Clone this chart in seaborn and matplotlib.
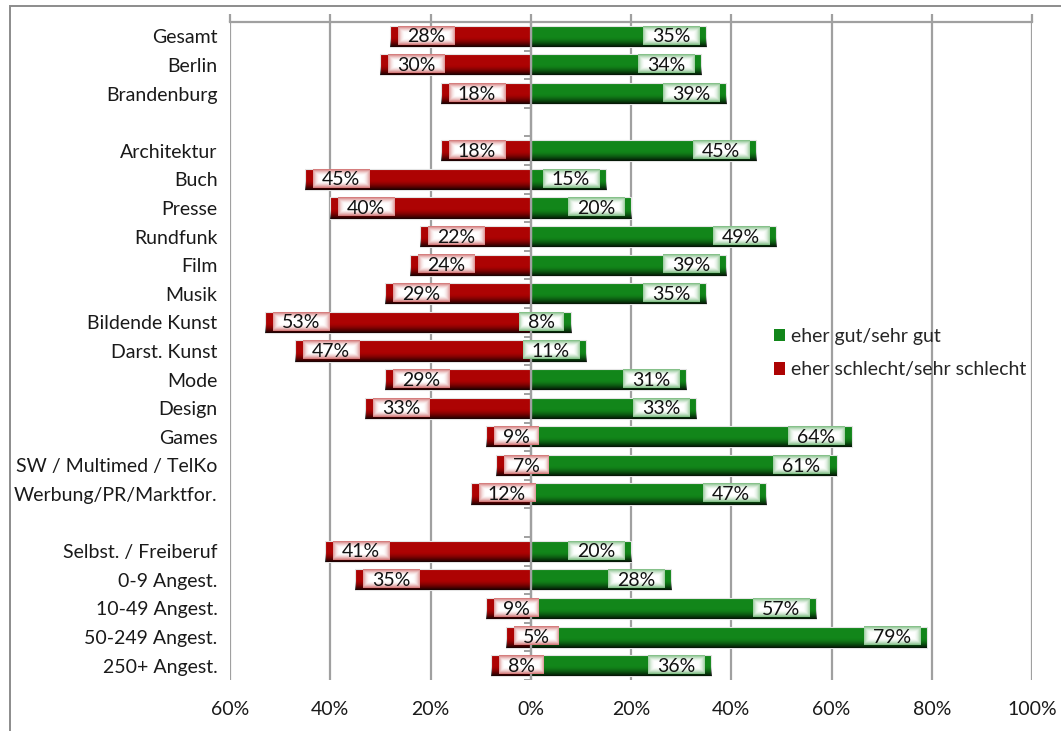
import numpy as np
import pandas as pd
import matplotlib
matplotlib.use("Agg")
import matplotlib.pyplot as plt
import seaborn as sns
from matplotlib.patches import Patch, Rectangle
from matplotlib.colors import to_rgb

# ---------------- data ----------------
categories = ["Gesamt", "Berlin", "Brandenburg", " ",
              "Architektur", "Buch", "Presse", "Rundfunk", "Film", "Musik",
              "Bildende Kunst", "Darst. Kunst", "Mode", "Design", "Games",
              "SW / Multimed / TelKo", "Werbung/PR/Marktfor.", "  ",
              "Selbst. / Freiberuf", "0-9 Angest.", "10-49 Angest.",
              "50-249 Angest.", "250+ Angest."]
gut = [35, 34, 39, np.nan, 45, 15, 20, 49, 39, 35, 8, 11, 31, 33, 64, 61, 47,
       np.nan, 20, 28, 57, 79, 36]
schlecht = [28, 30, 18, np.nan, 18, 45, 40, 22, 24, 29, 53, 47, 29, 33, 9, 7, 12,
            np.nan, 41, 35, 9, 5, 8]
x_ticks = [-60, -40, -20, 0, 20, 40, 60, 80, 100]
x_tick_labels = ["60%", "40%", "20%", "0%", "20%", "40%", "60%", "80%", "100%"]
legend_labels = ["eher gut/sehr gut", "eher schlecht/sehr schlecht"]

GREEN = "#12861a"
RED = "#ad0303"
GRAY = "#a0a0a0"
FS = 14

df = pd.DataFrame({"cat": categories, "gut": gut,
                   "schlecht": [-v for v in schlecht]})

sns.set_theme(style="white")
plt.rcParams["font.family"] = ["Lato", "DejaVu Sans"]

W, H = 1061, 731
fig = plt.figure(figsize=(W / 100, H / 100), dpi=100)
ax = fig.add_axes([230 / W, 1 - 680 / H, (1032 - 230) / W, (680 - 22) / H])

BAR_H = 0.74
sns.barplot(data=df, y="cat", x="gut", order=categories, color=GREEN,
            saturation=1, width=BAR_H, orient="h", errorbar=None, ax=ax,
            edgecolor="#e4e4e4", linewidth=0.8, zorder=2)
sns.barplot(data=df, y="cat", x="schlecht", order=categories, color=RED,
            saturation=1, width=BAR_H, orient="h", errorbar=None, ax=ax,
            edgecolor="#e4e4e4", linewidth=0.8, zorder=2)

ax.set_xlim(-60, 100)
ax.set_ylim(len(categories) - 0.5, -0.5)
ax.set_autoscale_on(False)
ax.set_xlabel("")
ax.set_ylabel("")
ax.set_xticks(x_ticks)
ax.set_xticklabels(x_tick_labels)
ax.grid(axis="x", color=GRAY, linewidth=1.6)
ax.grid(axis="y", visible=False)
ax.set_axisbelow(True)
for s in ["left", "right", "bottom"]:
    ax.spines[s].set_visible(False)
ax.spines["top"].set_color(GRAY)
ax.spines["top"].set_linewidth(1.6)
ax.tick_params(axis="x", top=True, bottom=False, labeltop=False,
               labelbottom=True, length=6, width=1.6, color=GRAY,
               direction="out", pad=9, labelsize=FS, labelcolor="#1a1a1a")
ax.tick_params(axis="y", left=False, length=0, pad=9, labelsize=FS,
               labelcolor="#1a1a1a")

# center axis with small ticks between categories
ax.axvline(0, color=GRAY, linewidth=1.6, zorder=3)
ax.hlines(np.arange(len(categories) + 1) - 0.5, -1.4, 0, color=GRAY,
          linewidth=1.4, zorder=3)

# dark bottom gradient on each bar
grad_bar = np.zeros((32, 2, 4))
tt = np.linspace(0, 1, 32)
grad_bar[:, :, 3] = (np.clip((tt - 0.55) / 0.45, 0, 1) ** 1.6 * 0.85)[:, None]
for p in list(ax.patches):
    bb = p.get_bbox()
    if not np.isfinite(bb.width) or abs(bb.width) < 1e-9:
        continue
    ytop, ybot = min(bb.y0, bb.y1), max(bb.y0, bb.y1)
    ax.imshow(grad_bar, extent=(bb.x0, bb.x1, ybot, ytop), origin="upper",
              aspect="auto", zorder=2.5, interpolation="bilinear")

# labels with gradient boxes
fig.canvas.draw()
renderer = fig.canvas.get_renderer()
ppu = ax.transData.transform((1, 0))[0] - ax.transData.transform((0, 0))[0]


def box_img(color, n=40, m=80):
    c = np.array(to_rgb(color))
    v = np.linspace(-1, 1, n)[:, None]
    u = np.linspace(-1, 1, m)[None, :]
    ty = np.clip((np.abs(v) - 0.3) / 0.7, 0, 1) ** 1.6 * 0.55
    tx = np.clip((np.abs(u) - 0.75) / 0.25, 0, 1) ** 2 * 0.4
    f = np.maximum(ty, tx)
    img = np.ones((n, m, 3)) * (1 - f[..., None]) + c * f[..., None]
    return img


PAD = 9
for i, cat in enumerate(categories):
    for val, col, sign in ((gut[i], GREEN, 1), (schlecht[i], RED, -1)):
        if not np.isfinite(val):
            continue
        t = ax.text(0, i, f"{int(val)}%", fontsize=FS, ha="center",
                    va="center", color="#111111", zorder=6)
        tw = t.get_window_extent(renderer).width
        bw = (tw + 2 * PAD) / ppu
        if sign > 0:
            right = val - 7 / ppu
            left = right - bw
        else:
            left = -val + 8 / ppu
            right = left + bw
        t.set_x((left + right) / 2)
        t.set_y(i + 0.02)
        y0 = i - BAR_H / 2
        y1 = i + BAR_H / 2 - 0.08
        ax.imshow(box_img(col), extent=(left, right, y1, y0), origin="upper",
                  aspect="auto", zorder=5, interpolation="bilinear")

# legend
handles = [Patch(facecolor=GREEN, edgecolor="none"),
           Patch(facecolor=RED, edgecolor="none")]
fig.legend(handles, legend_labels, loc="upper left",
           bbox_to_anchor=(764 / W, 1 - 318 / H), frameon=False,
           fontsize=FS, handlelength=0.6, handleheight=0.6,
           handletextpad=0.3, labelspacing=0.85, borderpad=0)

# outer chart frame
fig.patches.append(Rectangle((10 / W, -0.1), 1.2, 1 - 6 / H + 0.1,
                             transform=fig.transFigure, fill=False,
                             edgecolor="#8c8c8c", linewidth=1.4, zorder=0))

fig.savefig("out.png", dpi=100)
